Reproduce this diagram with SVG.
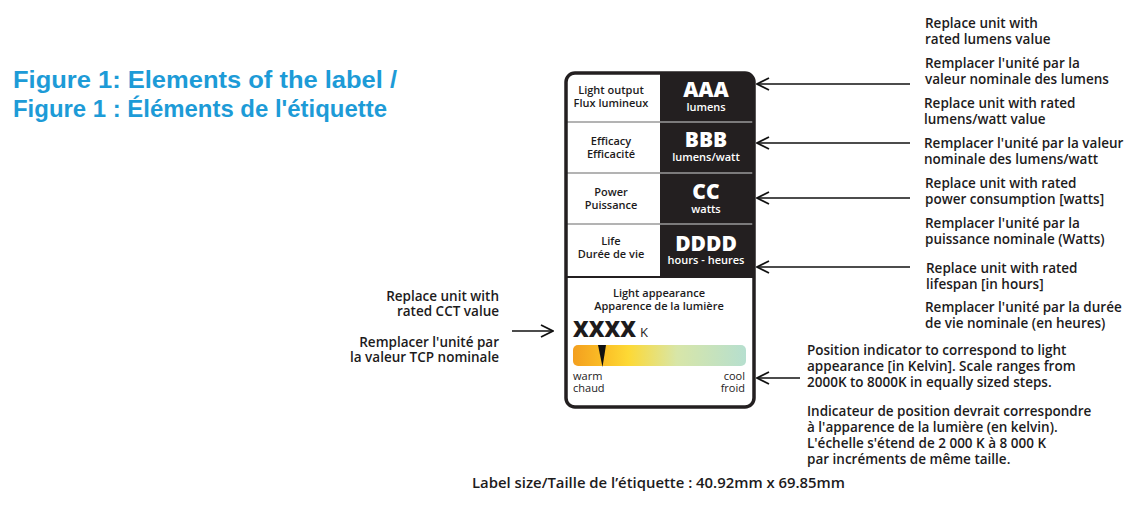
<svg xmlns="http://www.w3.org/2000/svg" width="1148" height="507" viewBox="0 0 1148 507">
<style>
  .t { font-family: "Open Sans", "Noto Sans", "Liberation Sans", sans-serif; font-weight: 600; fill: #1d1b1c; }
  .note { font-size: 13.5px; }
  .lab { font-size: 11px; text-anchor: middle; }
  .big { font-family: "Open Sans", "Noto Sans", sans-serif; font-weight: 800; font-size: 21px; fill: #fff; text-anchor: middle; }
  .unit { font-family: "Open Sans", "Noto Sans", sans-serif; font-weight: 600; font-size: 11px; fill: #fff; text-anchor: middle; }
  .sc { font-family: "Open Sans", "Noto Sans", sans-serif; font-weight: 400; font-size: 11px; fill: #1d1b1c; }
  .title { font-family: "Liberation Sans", Arial, sans-serif; font-weight: 700; font-size: 24px; fill: #1d9bd7; }
  .sep { stroke: #9a9a9a; stroke-width: 1.5; }
  .arrow { stroke: #111; stroke-width: 1.6; fill: none; marker-end: url(#ah); }
</style>
<defs>
  <marker id="ah" viewBox="0 0 14 14" refX="13" refY="7" markerWidth="14" markerHeight="14" orient="auto" markerUnits="userSpaceOnUse">
    <path d="M1,1 L13,7 L1,13" fill="none" stroke="#111" stroke-width="1.8"/>
  </marker>
  <linearGradient id="cct" x1="0" y1="0" x2="1" y2="0">
    <stop offset="0" stop-color="#f39f1f"/>
    <stop offset="0.18" stop-color="#fbbf26"/>
    <stop offset="0.32" stop-color="#fdd935"/>
    <stop offset="0.6" stop-color="#d8e6a8"/>
    <stop offset="1" stop-color="#b6dfcf"/>
  </linearGradient>
</defs>
<rect width="1148" height="507" fill="#fff"/>

<g id="title">
  <text class="title" x="13" y="88" textLength="384" lengthAdjust="spacingAndGlyphs">Figure 1: Elements of the label /</text>
  <text class="title" x="13" y="117" textLength="374" lengthAdjust="spacingAndGlyphs">Figure 1 : Éléments de l'étiquette</text>
</g>

<g id="label">
  <rect x="566" y="73" width="188" height="334" rx="9" fill="#fff"/>
  <path d="M660,73 H745 A9,9 0 0 1 754,82 V277 H660 Z" fill="#231f20"/>
  <line class="sep" x1="566" y1="122" x2="754" y2="122"/>
  <line class="sep" x1="566" y1="173" x2="754" y2="173"/>
  <line class="sep" x1="566" y1="224" x2="754" y2="224"/>
  <line x1="566" y1="277" x2="754" y2="277" stroke="#231f20" stroke-width="2"/>
  <rect x="566" y="73" width="188" height="334" rx="9" fill="none" stroke="#231f20" stroke-width="3.5"/>

  <g id="row-light-output">
    <text class="t lab" x="611" y="94">Light output</text>
    <text class="t lab" x="611" y="107">Flux lumineux</text>
    <text class="big" x="706" y="97">AAA</text>
    <text class="unit" x="706" y="110.5">lumens</text>
  </g>
  <g id="row-efficacy">
    <text class="t lab" x="611" y="145">Efficacy</text>
    <text class="t lab" x="611" y="158">Efficacité</text>
    <text class="big" x="706" y="147">BBB</text>
    <text class="unit" x="706" y="160.5">lumens/watt</text>
  </g>
  <g id="row-power">
    <text class="t lab" x="611" y="196">Power</text>
    <text class="t lab" x="611" y="209">Puissance</text>
    <text class="big" x="706" y="199">CC</text>
    <text class="unit" x="706" y="212.5">watts</text>
  </g>
  <g id="row-life">
    <text class="t lab" x="611" y="245">Life</text>
    <text class="t lab" x="611" y="258">Durée de vie</text>
    <text class="big" x="706" y="251">DDDD</text>
    <text class="unit" x="706" y="264">hours - heures</text>
  </g>
  <g id="row-appearance">
    <text class="t lab" x="659" y="297">Light appearance</text>
    <text class="t lab" x="659" y="310">Apparence de la lumière</text>
    <text x="573" y="337" font-family="Open Sans, Noto Sans, sans-serif" font-weight="800" font-size="22" fill="#1d1b1c" textLength="63" lengthAdjust="spacingAndGlyphs">XXXX</text>
    <text x="640" y="337" font-family="Open Sans, Noto Sans, sans-serif" font-weight="400" font-size="13" fill="#1d1b1c">K</text>
    <rect x="573" y="345" width="173" height="21" rx="5" fill="url(#cct)"/>
    <polygon points="598,345 606,345 602.5,367" fill="#111"/>
    <text class="sc" x="573" y="380">warm</text>
    <text class="sc" x="573" y="392">chaud</text>
    <text class="sc" x="745" y="380" text-anchor="end">cool</text>
    <text class="sc" x="745" y="392" text-anchor="end">froid</text>
  </g>
</g>

<g id="note-lumens">
  <text class="t note" x="925" y="28">Replace unit with</text>
  <text class="t note" x="925" y="44">rated lumens value</text>
  <text class="t note" x="925" y="68">Remplacer l'unité par la</text>
  <text class="t note" x="925" y="84">valeur nominale des lumens</text>
</g>
<g id="note-efficacy">
  <text class="t note" x="924" y="108">Replace unit with rated</text>
  <text class="t note" x="924" y="124">lumens/watt value</text>
  <text class="t note" x="924" y="148">Remplacer l'unité par la valeur</text>
  <text class="t note" x="924" y="164">nominale des lumens/watt</text>
</g>
<g id="note-power">
  <text class="t note" x="925" y="188">Replace unit with rated</text>
  <text class="t note" x="925" y="204">power consumption [watts]</text>
  <text class="t note" x="925" y="228">Remplacer l'unité par la</text>
  <text class="t note" x="925" y="244">puissance nominale (Watts)</text>
</g>
<g id="note-life">
  <text class="t note" x="926" y="273">Replace unit with rated</text>
  <text class="t note" x="926" y="289">lifespan [in hours]</text>
  <text class="t note" x="925" y="312">Remplacer l'unité par la durée</text>
  <text class="t note" x="925" y="328">de vie nominale (en heures)</text>
</g>
<g id="note-cct">
  <text class="t note" x="499" y="301" text-anchor="end">Replace unit with</text>
  <text class="t note" x="499" y="316" text-anchor="end">rated CCT value</text>
  <text class="t note" x="499" y="347" text-anchor="end">Remplacer l'unité par</text>
  <text class="t note" x="499" y="362" text-anchor="end">la valeur TCP nominale</text>
</g>
<g id="note-indicator">
  <text class="t note" x="807" y="355">Position indicator to correspond to light</text>
  <text class="t note" x="807" y="371">appearance [in Kelvin]. Scale ranges from</text>
  <text class="t note" x="807" y="387">2000K to 8000K in equally sized steps.</text>
  <text class="t note" x="807" y="416">Indicateur de position devrait correspondre</text>
  <text class="t note" x="807" y="432">à l'apparence de la lumière (en kelvin).</text>
  <text class="t note" x="807" y="448">L'échelle s'étend de 2 000 K à 8 000 K</text>
  <text class="t note" x="807" y="464">par incréments de même taille.</text>
</g>
<g id="caption">
  <text class="t" x="472" y="488" font-size="14.5" textLength="373" lengthAdjust="spacingAndGlyphs">Label size/Taille de l’étiquette : 40.92mm x 69.85mm</text>
</g>

<g id="connectors">
  <line class="arrow" x1="910" y1="84" x2="757" y2="84"/>
  <line class="arrow" x1="910" y1="143" x2="757" y2="143"/>
  <line class="arrow" x1="910" y1="198" x2="757" y2="198"/>
  <line class="arrow" x1="910" y1="267" x2="757" y2="267"/>
  <line class="arrow" x1="800" y1="378" x2="757" y2="378"/>
  <line class="arrow" x1="512" y1="331" x2="553" y2="331"/>
</g>
</svg>
